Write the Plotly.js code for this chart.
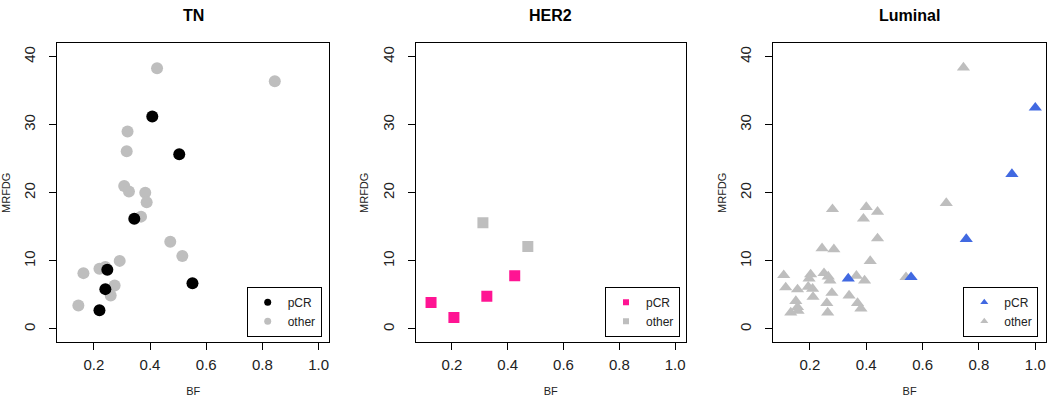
<!DOCTYPE html>
<html>
<head>
<meta charset="utf-8">
<script src="https://cdn.plot.ly/plotly-3.0.1.min.js"></script>
<style>
html, body { margin: 0; padding: 0; background: #ffffff; }
#chart { width: 1050px; height: 407px; }
</style>
</head>
<body>
<div id="chart"></div>
<script>
// ---- Data ----
var panelTitles = ["TN", "HER2", "Luminal"];
var groupLabels = ["pCR", "other"];
var xTickVals = [0.2, 0.4, 0.6, 0.8, 1.0];
var xTickText = ["0.2", "0.4", "0.6", "0.8", "1.0"];
var yTickVals = [0, 10, 20, 30, 40];
var yTickText = ["0", "10", "20", "30", "40"];

var tnPcrBF = [0.408, 0.504, 0.344, 0.248, 0.241, 0.220, 0.551];
var tnPcrMR = [31.2, 25.65, 16.2, 8.7, 5.85, 2.75, 6.7];
var tnOtherBF = [0.425, 0.844, 0.320, 0.317, 0.308, 0.325, 0.383, 0.388, 0.368, 0.472, 0.515, 0.292, 0.220, 0.241, 0.163, 0.274, 0.260, 0.145];
var tnOtherMR = [38.3, 36.4, 29.0, 26.1, 21.0, 20.2, 20.0, 18.6, 16.5, 12.8, 10.7, 10.0, 8.85, 9.1, 8.2, 6.4, 4.9, 3.45];

var her2PcrBF = [0.125, 0.207, 0.325, 0.425];
var her2PcrMR = [3.9, 1.67, 4.8, 7.8];
var her2OtherBF = [0.311, 0.472];
var her2OtherMR = [15.6, 12.1];

var lumPcrBF = [1.0, 0.917, 0.755, 0.336, 0.559];
var lumPcrMR = [32.5, 22.75, 13.2, 7.4, 7.6];
var lumOtherBF = [0.745, 0.684, 0.280, 0.400, 0.440, 0.390, 0.440, 0.243, 0.285, 0.414, 0.107, 0.2025, 0.197, 0.250, 0.265, 0.271, 0.365, 0.394, 0.541, 0.114, 0.156, 0.194, 0.2095, 0.211, 0.278, 0.339, 0.150, 0.260, 0.369, 0.156, 0.381, 0.132, 0.158, 0.263];
var lumOtherMR = [38.4, 18.5, 17.6, 17.9, 17.2, 16.2, 13.3, 11.85, 11.7, 9.98, 7.9, 8.0, 7.4, 8.2, 7.7, 7.1, 7.8, 7.1, 7.6, 6.1, 5.8, 6.2, 5.9, 4.7, 5.3, 4.9, 4.1, 3.8, 3.8, 3.2, 3.0, 2.4, 2.65, 2.4];

// ---- Styling ----
var FONT = "Liberation Sans, Arial, Helvetica, sans-serif";
var GREY = "#bebebe";
var panels = [
  {title: panelTitles[0], pcrX: tnPcrBF, pcrY: tnPcrMR, othX: tnOtherBF, othY: tnOtherMR,
   color: "#000000", symbol: "circle", size: 12, legendSize: 7,
   dom: [57.3, 329.3], legendRight: 321.7, legend: "legend"},
  {title: panelTitles[1], pcrX: her2PcrBF, pcrY: her2PcrMR, othX: her2OtherBF, othY: her2OtherMR,
   color: "#ff1493", symbol: "square", size: 11, legendSize: 6,
   dom: [415.7, 685.7], legendRight: 680, legend: "legend2"},
  {title: panelTitles[2], pcrX: lumPcrBF, pcrY: lumPcrMR, othX: lumOtherBF, othY: lumOtherMR,
   color: "#4169e1", symbol: "triangle-up", size: 11.5, legendSize: 7,
   dom: [773.3, 1046.0], legendRight: 1038.3, legend: "legend3"}
];

var W = 1050, H = 407;
var yDom = [(H - 342.3) / H, (H - 43.3) / H];
var traces = [];
var layout = {
  width: W, height: H,
  margin: {l: 0, r: 0, t: 0, b: 0},
  paper_bgcolor: "#ffffff",
  plot_bgcolor: "#ffffff",
  font: {family: FONT, color: "#000000"},
  showlegend: true,
  annotations: []
};

panels.forEach(function (p, i) {
  var n = i === 0 ? "" : String(i + 1);
  var xa = "x" + n, ya = "y" + n;
  // grey "other" first, pCR on top
  traces.push({type: "scatter", mode: "markers", x: p.othX, y: p.othY, xaxis: xa, yaxis: ya,
    marker: {symbol: p.symbol, size: p.size, color: GREY}, showlegend: false, hoverinfo: "skip"});
  traces.push({type: "scatter", mode: "markers", x: p.pcrX, y: p.pcrY, xaxis: xa, yaxis: ya,
    marker: {symbol: p.symbol, size: p.size, color: p.color}, showlegend: false, hoverinfo: "skip"});
  // legend entries
  traces.push({type: "scatter", mode: "markers", x: [null], y: [null], xaxis: xa, yaxis: ya,
    name: groupLabels[0], legend: p.legend,
    marker: {symbol: p.symbol, size: p.legendSize, color: p.color}, showlegend: true});
  traces.push({type: "scatter", mode: "markers", x: [null], y: [null], xaxis: xa, yaxis: ya,
    name: groupLabels[1], legend: p.legend,
    marker: {symbol: p.symbol, size: p.legendSize, color: GREY}, showlegend: true});

  layout["xaxis" + n] = {
    domain: [p.dom[0] / W, p.dom[1] / W], anchor: ya,
    range: [0.07, 1.038], tickvals: xTickVals, ticktext: xTickText,
    showgrid: false, zeroline: false, showline: true, mirror: true,
    linecolor: "#000000", linewidth: 1, ticks: "outside", ticklen: 7, tickcolor: "#000000",
    tickfont: {family: FONT, size: 15, color: "#222222"},
    ticklabelstandoff: 2,
    title: {text: "BF", font: {family: FONT, size: 11, color: "#222222"}, standoff: 15}
  };
  layout["yaxis" + n] = {
    domain: yDom, anchor: xa,
    range: [-1.96, 41.96], tickvals: yTickVals, ticktext: yTickText, tickangle: -90,
    showgrid: false, zeroline: false, showline: true, mirror: true,
    linecolor: "#000000", linewidth: 1, ticks: "outside", ticklen: 7, tickcolor: "#000000",
    tickfont: {family: FONT, size: 15, color: "#222222"},
    ticklabelstandoff: 8,
    title: {text: "MRFDG", font: {family: FONT, size: 11, color: "#222222"}, standoff: 8}
  };
  layout[p.legend] = {
    x: p.legendRight / W, xanchor: "right",
    y: (H - 336.7) / H, yanchor: "bottom",
    bgcolor: "#ffffff", bordercolor: "#000000", borderwidth: 1,
    font: {family: FONT, size: 12, color: "#222222"},
    itemwidth: 30, tracegroupgap: 0, traceorder: "normal"
  };
  layout.annotations.push({
    text: "<b>" + p.title + "</b>", xref: "paper", yref: "paper",
    x: (p.dom[0] + p.dom[1]) / 2 / W, y: (H - 16) / H, xanchor: "center", yanchor: "middle",
    showarrow: false, font: {family: FONT, size: 16, color: "#000000"}
  });
});

Plotly.newPlot("chart", traces, layout, {staticPlot: true, displayModeBar: false});
</script>
</body>
</html>
